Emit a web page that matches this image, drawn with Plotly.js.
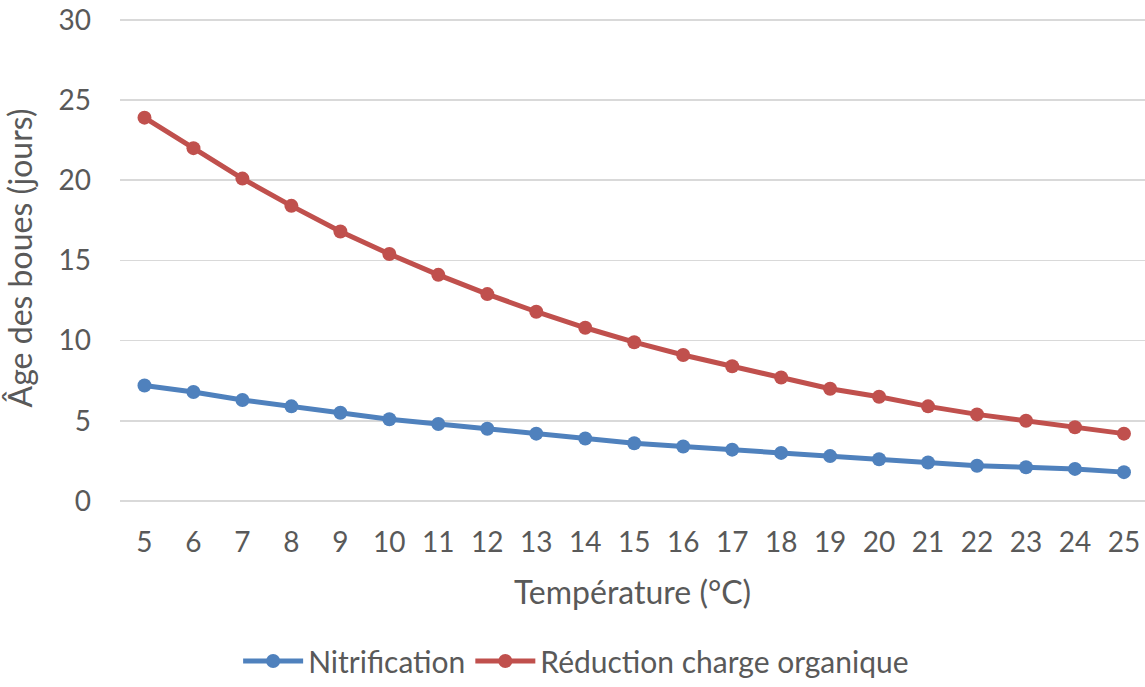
<!DOCTYPE html>
<html>
<head>
<meta charset="utf-8">
<script src="https://cdn.plot.ly/plotly-3.0.1.min.js"></script>
<style>html,body{margin:0;padding:0;background:#fff}#chart{width:1145px;height:687px}</style>
</head>
<body>
<div id="chart"></div>
<script>
const temperatures = [5,6,7,8,9,10,11,12,13,14,15,16,17,18,19,20,21,22,23,24,25];
const nitrification = [7.2,6.8,6.3,5.9,5.5,5.1,4.8,4.5,4.2,3.9,3.6,3.4,3.2,3.0,2.8,2.6,2.4,2.2,2.1,2.0,1.8];
const reductionCharge = [23.9,22.0,20.1,18.4,16.8,15.4,14.1,12.9,11.8,10.8,9.9,9.1,8.4,7.7,7.0,6.5,5.9,5.4,5.0,4.6,4.2];
const seriesNames = ["Nitrification", "Réduction charge organique"];
const yTicks = [0,5,10,15,20,25,30];

const font = "Lato, 'Open Sans', sans-serif";
const grey = "#595959";

const traces = [
  {x: temperatures, y: nitrification, name: seriesNames[0], type: "scatter", mode: "lines+markers",
   line: {color: "#4F81BD", width: 5}, marker: {color: "#4F81BD", size: 14}},
  {x: temperatures, y: reductionCharge, name: seriesNames[1], type: "scatter", mode: "lines+markers",
   line: {color: "#C0504D", width: 5}, marker: {color: "#C0504D", size: 14}}
];

const layout = {
  width: 1145, height: 687,
  margin: {l: 120, r: 0, t: 15, b: 185},
  paper_bgcolor: "#fff", plot_bgcolor: "#fff",
  font: {family: font, color: grey, size: 28},
  showlegend: true,
  legend: {orientation: "h", x: 0.445, xanchor: "center", y: -0.33, yanchor: "middle",
           font: {size: 30, color: grey}, tracegroupgap: 0, itemwidth: 60},
  xaxis: {
    automargin: false,
    range: [4.5, 25.43], tickmode: "array", tickvals: temperatures, ticktext: temperatures.map(String),
    showgrid: false, zeroline: false, showline: false, ticks: "",
    ticklabelstandoff: 22,
    tickfont: {size: 28, color: grey},
    title: {text: "Température (°C)", font: {size: 32, color: grey}, standoff: 24}
  },
  yaxis: {
    automargin: false,
    range: [0, 30.3], tickmode: "array", tickvals: yTicks, ticktext: yTicks.map(String),
    showgrid: true, gridcolor: "#d9d9d9", gridwidth: 1.5, zeroline: true, zerolinecolor: "#d9d9d9", zerolinewidth: 1.5,
    showline: false, ticks: "", ticklabelstandoff: 28,
    tickfont: {size: 28, color: grey},
    title: {text: "Âge des boues (jours)", font: {size: 32, color: grey}, standoff: 20}
  }
};

Plotly.newPlot("chart", traces, layout, {displayModeBar: false, staticPlot: true});
</script>
</body>
</html>
